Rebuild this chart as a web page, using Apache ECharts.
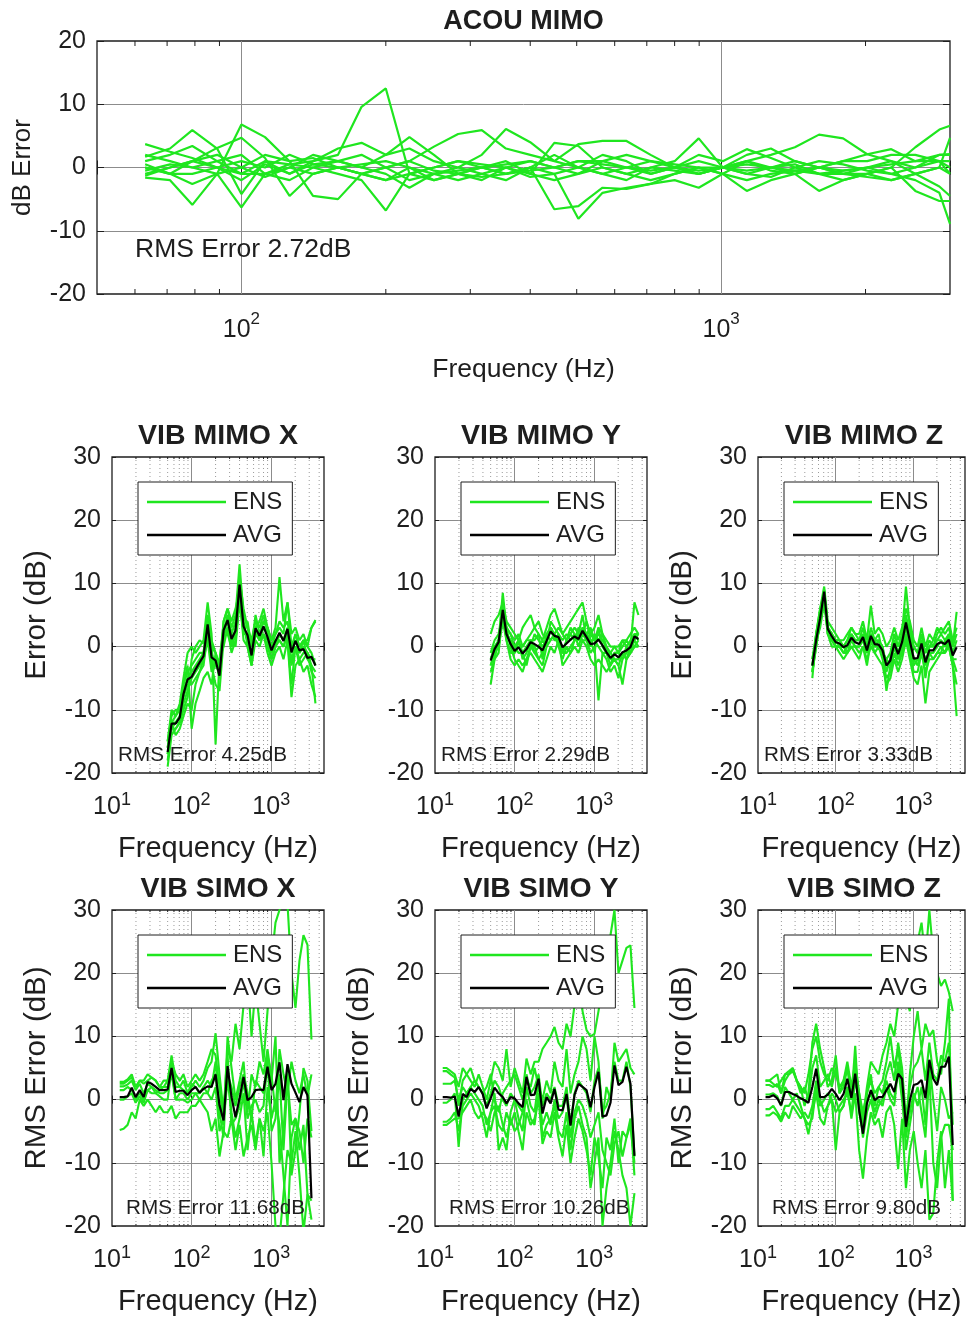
<!DOCTYPE html>
<html>
<head>
<meta charset="utf-8">
<script src="https://cdn.jsdelivr.net/npm/echarts@6/dist/echarts.min.js"></script>
<style>
  html, body { margin: 0; padding: 0; background: #fff; }
  #chart { width: 968px; height: 1320px; }
</style>
</head>
<body>
<div id="chart"></div>
<script>
// ---------- Acoustic MIMO: error per 1/6-octave band, one line per realisation ----------
const acouFreq = [63,71,79,89,100,112,126,141,159,178,200,224,252,283,317,356,400,449,504,566,635,713,800,898,1008,1131,1270,1425,1600,1796,2016,2263,2540,2851,3000];
const acouEns = [
  [0.5,-1,1,0,-1,1,0.5,1,2,9.6,12.5,-1,-2,-1,0,0.5,1,0,1,0.5,0,-0.5,0,1,0,-0.5,0,1,0,-0.5,0,0.5,1,2,2],
  [3.7,2.5,1.5,0,-2,0.5,-1,1,3,3.9,2,4.8,2,-1,-2,0,1,0,-1,1,2,1,0,-1,0,1,0,0.5,-1,-0.5,0,1,-1,0,-1],
  [1.7,3,5.9,3,-4.2,1,-1,0.5,1,0,-1,-3.2,-1,0,2,6.1,4,1,3.7,4.2,4.2,2,0,-1,0,1,2,3.2,5.2,4.6,2.1,1,0,1,-1],
  [0,-1,-2.6,-1,6.8,4.8,1,-4.5,-5,-1,0,1,3.3,5.3,5.9,3,2,1,0,-1,0,-1,0,2,1,2.9,1.5,0,-1,-2,-1,0,3.2,6,6.6],
  [-1.3,0,1,3.1,4.7,1.5,-4.5,-1,0,0.5,1,0,-2,-1,0,-1,0,-1,-8.1,-4,-3.2,-2.6,-2,-3.2,-1,-3.7,-2,-1,-3.7,-2,-1,0,-3.7,-5.3,-5.3],
  [-1.6,-2,-5.9,-1,-6.3,-1,0.5,0,-1,-2,-6.8,-1,0,1,0,-1,0,-6.6,-6.1,-3.2,-3.4,-2.6,-1,0,0,-1,0,-1,0,-1,0,-1,-2,-4,-8.9],
  [1,2,3.4,1,-1,-1,0,-1,0,-1,-2,0,-1,-2,-1,0,-1,3.9,3.4,0,-1,0,-0.5,-1,0,0.5,0,-0.5,-1,-1,-1.5,-2,-1,0,4.7],
  [-0.5,0.5,0,-1,0,2,1,1.5,0,-1,0,1,-0.5,-1,-1.5,-1,-0.5,0,1,1,0,1,0.5,0,-1,1,-0.5,-1,0,1,2.1,2.9,1,1,1],
  [0,-1,-1,0,1,0,2,0.5,0,-1,-2,-1,0,1,0.5,0,-1.5,-1,0,2,1,-1,0,-0.5,0,-1,-1.5,0,1,0.5,-0.5,-1,0,2,2.1],
  [2,1,0,1,2,-1,-2,0,1,2,0,-2,-1,-0.5,0,1,-1,-2,-1,0,-1,-2,-1,0,-1,-2,-1,-0.5,0,-1,-1,-2,-1,-3,-4.5],
  [-1,0,1,2,0,-1.5,0,2,1,0,2,3,1,0,-1,-2,0,2,0,-1,-2,0,1,4.6,0,2,3,1,0,1,1,2,2,1,0]
];
const acouMinorTicks = [60,70,80,90,200,300,400,500,600,700,800,900,2000];

// ---------- Vibration MIMO (50 Hz - 3.6 kHz) ----------
const mimoFreq = [50,56,63,71,79,89,100,112,126,141,159,178,200,224,252,283,317,356,400,449,504,566,635,713,800,898,1008,1131,1270,1425,1600,1796,2016,2263,2540,2851,3200,3592];

const mimoXEns = [
  [-19,-14,-13,-12,-10,-8,-2,0,1,0.5,5,1,-1,-3,4,6,3,5,13,5,3,0,5,2,4,3,1,3,11,4,7,2,3,1,2,0,3,4.2],
  [-15,-10,-11,-9,-5,-1,0,-1,0,1,7,2,-15.5,-2,0,3,-1,1,8,1,0,-3,1,0,2,-1,-3,-1,0,-2,1,-8,-3,-2,-4,-3,-6,-8],
  [-17,-12,-14,-13,-11,-9,-10,-6,-4,-3,2,-3,-6,-7,1,5,2,4,11,6,3,1,4,3,5,2,0,2,4,3,4,0,2,0,1,1,3,4],
  [-18,-13,-12,-12,-8,-6,-6,-5,-4,-2,1,-4,-3,-2,3,2,0,2,10,2,2,-2,2,1,2,1,-2,0,1,0,2,-3,0,-3,-2,-1,-4,-5],
  [-15,-11,-10,-10,-6,-3,-13,-9,-7,-5,-4,-6,-1,-5,4,6,4,6,9,4,0,-3,3,4,6,3,1,2,3,2,7,0,1,-1,1,-2,-3,-9],
  [-16,-12,-11,-10,-7,-5,-4,-3,-2,-1,4,0,-1,-3,2,3,1,0,7,2,4,0,3,1,3,2,0,1,1,0,2,-2,0,-1,0,-1,-2,-2],
  [-17,-13,-13,-12,-9,-7,-5,-4,-3,-2,3,-2,-2,-5,3,4,0,3,10,3,1,-2,2,2,4,3,-1,0,2,1,3,-1,2,0,1,0,-1,-3],
  [-16,-12,-12,-11,-6,-4,-3,-2,-1,-1,4,-1,-3,-4,2,5,2,1,8,3,1,-1,3,1,2,0,-2,0,2,1,1,-6,0,-2,-1,-1,-3,-4]
];
const mimoXAvg = [-16.7,-12.2,-12.2,-11.2,-7.5,-5.2,-4.8,-3.6,-2.5,-1.5,3.5,-1.7,-2.2,-4.6,2.6,4.2,1.2,2.5,9.8,3.2,1.8,-1.4,2.9,1.7,3.2,1.5,-0.6,0.9,2.2,0.9,2.8,-0.9,0.9,-0.6,-0.4,-1.8,-1.6,-3.0];

const mimoYEns = [
  [-6,-2,1,8.5,3,0,-2,-3,-4,-2,0,-1,-2,-3,0,4,3,2,-1,1,2,3,2,5,1,-1,0,-8.5,-1,-2,-4,-3,-5,-2,-1,0,7,5],
  [2,4,5,7,4,3,2,1,3,4,5,3,2,1,3,5,6,4,2,3,4,5,6,7,4,2,3,5,2,1,0,0,-1,1,1,2,3,2],
  [-3,-1,0,6,1,-2,-3,-2,-3,-2,-1,-2,-3,-4,-2,0,-1,1,-3,-2,-1,0,-1,1,0,-2,-3,-2,-3,-4,-3,-2,-3,-6,-2,-1,0,1],
  [-1,1,2,5,3,2,1,2,0,1,2,3,4,2,1,3,2,3,2,1,3,2,1,3,2,3,1,2,1,0,-1,0,0,1,0,1,2,1],
  [-2,0,1,4,1,-1,-1,1,-2,-1,1,0,-2,-1,2,1,2,0,-2,0,-1,1,3,2,4,1,-1,3,0,-1,-2,-2,-3,-1,-2,-1,1,0],
  [-3,-1,1,7,2,1,0,-1,-1,-3,0,2,1,0,1,3,1,2,1,2,1,2,0,2,1,0,2,1,2,-1,-3,-1,-1,0,1,0,2,2],
  [-1,0,0,4,2,1,-1,0,0,1,1,-1,0,1,0,1,2,1,-1,-1,0,1,1,3,2,1,1,0,-1,-1,-1,-2,-2,-1,-2,0,1,2],
  [-4,-2,-1,6,3,2,0,1,-1,0,1,1,2,-2,2,3,1,1,-1,1,2,1,2,1,1,2,1,3,2,0,-2,-1,-1,-2,0,-1,0,0]
];
const mimoYAvg = [-2.2,-0.4,0.7,5.8,2.0,0.4,-0.7,-0.1,-1.1,-0.4,0.7,0.4,0.0,-0.6,0.9,2.4,1.7,1.5,-0.1,0.5,1.1,1.6,1.2,2.5,1.5,0.4,0.5,1.1,0.2,-0.9,-1.8,-1.2,-1.7,-0.9,-0.6,-0.1,1.6,1.2];

const mimoZEns = [
  [-5,2,6,9.5,4,3,2,1,0,1,3,2,1,3,0,2,1,2,-1,-2,-1,2,0,2,9.5,3,0,-1,2,-1,1,0,2,3,2,3,0,5.5],
  [-4,0,4,8,2,1,0,-1,-2,-1,0,-1,-2,0,-2,0,-1,-2,-3,-6,-5,-2,-4,-2,1,-2,-5,-6,-3,-9,-4,-3,-2,-1,-1,0,-3,-11],
  [-2,2,5,9,3,2,1,1,1,2,3,2,2,4,1,6.5,2,3,2,0,1,3,1,3,6,4,1,0,3,0,2,1,3,2,3,4,1,3],
  [-3,1,4,7,2,1,0,0,-1,-1,1,0,-1,0,-3,1,-1,0,-2,-5,-4,-1,-3,-1,2,-1,-4,-4,-1,-4,-2,-2,-1,0,-1,1,-2,-4],
  [-4,1,5,8,3,2,1,1,0,1,2,1,1,2,0,3,1,1,0,-3,-2,1,-1,1,5,2,-2,-2,1,-3,0,0,1,1,0,2,-1,1],
  [-3,2,6,8.5,3,2,0,0,-1,0,1,0,0,1,-1,1,0,0,-1,-2,-3,0,-2,0,3,0,-2,-3,0,-2,-1,-1,0,1,0,1,-2,-2],
  [-2,1,3,7,3,2,1,0,0,0,2,1,1,1,0,2,1,0,0,-4,-2,2,0,2,4,2,0,-1,1,-1,0,1,1,2,1,2,0,2],
  [-4,0,4,8,2,0,0,0,0,-1,0,0,0,1,-1,1,0,1,-1,-7,-3,0,-2,-1,2,1,-3,-2,0,-5,-1,-2,-1,-1,1,0,-3,-6]
];
const mimoZAvg = [-3.0,1.0,4.5,8.7,2.8,1.6,0.7,0.5,-0.1,0.2,1.4,0.7,0.4,1.5,-0.6,1.7,0.4,0.3,-0.6,-3.0,-2.2,0.5,-1.2,0.7,3.8,0.9,-1.9,-1.8,0.5,-2.5,-0.6,-0.6,0.4,0.7,0.4,1.1,-1.4,-0.1];

// ---------- Vibration SIMO (12.5 Hz - 3.2 kHz) ----------
const simoFreq = [12.5,14,15.7,17.7,19.8,22.3,25,28,31.5,35.4,39.7,44.5,50,56,63,71,79,89,100,112,126,141,159,178,200,224,252,283,317,356,400,449,504,566,635,713,800,898,1008,1131,1270,1425,1600,1796,2016,2263,2540,2851,3200];

const simoXEns = [
  [2.5,2.5,3,3.5,2,3,2.5,3,3.5,3,2,2,3,7,3,2,3,1,2,3,2,3,5,6,10.5,4,-2,8,6,12,8,15,20,10,18,12,6,14,22,28,30,33,31,20,14.5,22,26,24.5,9.5],
  [-4.8,-4.6,-4,-2,-3,0,-1,0,-1,-2,-1,-2,-2,-1,-3,-2,-2,-2,-1,-1,0,-1,-2,-5,-3,-9,-5,-6,-3,-8,-4,-9,-6,-4,-8,-3,-5,-2,-10,-20,-22,-15,-8,-10,-5,-12,-21,-15,-16],
  [2.8,2.8,3.2,4,2,3,3,4,3.5,3,2,3,3,6,4,3,4,2,3,4,3,4,6,8,7,2,-4,10,5,0,3,6,-2,4,2,6,4,8,3,10,-10,-5,5,-12,-8,-2,5,3,-5],
  [2.1,2.1,2.4,3,1.5,2.5,1,2.5,2,1.5,1,1,1.5,4,0,0,0,-0.5,0,1,1,2,3,2,6,-2,-6,7,-4,-3,-1,3,-3,-1,0,-2,-1,6,-5,-3,4,-8,3,-4,-3,-8,-4,-15,-19],
  [1.5,1.5,2,1.5,0,1,0,1.5,2,1,0.5,0,0,5,0,1,1,0,1,1,0,1,1,0,2,-5,-3,3,-2,-6,-3,1,-8,-2,-7,-3,-9,2,-3,0,-4,-12,-20,-6,-3,-5,-10,-3,-6],
  [0,0,0.5,1,-0.5,0.5,-0.5,1.5,1,1,1.5,2,2,6,2,2,1.5,1,2.5,2,1,2,1,3,4,-3,-1,4,2,-1,2,4,1,-3,3,2,1,7,4,-2,8,4,1,6,3,1,4,0.5,4]
];
const simoXAvg = [0.4,0.4,0.5,1.9,0.4,1.5,0.4,2.8,2.5,2.0,1.5,1.5,1.6,5.0,1.2,1.4,1.4,0.7,1.5,2.0,1.1,1.7,2.1,2.0,4.0,-0.9,-3.3,5.3,0.4,-2.8,0.2,3.6,-0.1,0.4,1.5,1.6,1.5,5.2,1.5,2.5,5.9,-0.1,5.6,2.5,1.1,-0.4,2.0,0.7,-15.6];

const simoYEns = [
  [5,5,4.5,4,2,5,4,3,2,4,2,0,3,6,5,3,8,2,5,3,1,6.5,4,6,6,8,9,10,11.5,9,8,12,10,15,20,14,11,10,10.4,14,18,22,26,30,20,22,24,24.4,14.5],
  [4.5,4.5,4,3.5,-1,3,4,5,3,2,1,2,4,0,-2,1,2,3,4,2,0,3,2,5,2,0,3,1,6,3,2,8,1,4,6,10,8,3,10,6,-3,2,0,9,6,7,8,5,4],
  [-0.5,-0.5,0,1,-7.5,0,1,2,1,0,-1,-4,-2,1,-8,-6,-8,-2,0,-3,-5,2,-1,-2,3,-6,-4,-3,-1,-5,-6,-2,-8,-3,-1,-4,-6,-14,-10,-6,-20,-14,-10,-5,-8,-12,-14,-20,-14.8],
  [-3.5,-3.5,-3,-2,-5,-1,0,1,0,-1,-3,-6,-2,-1,-4,-5,-2,-4,-2,-5,-8,-2,-4,-3,0,-7,-5,-6,-2,-6,-9,-4,-10,-6,-3,-5,-8,-12,-6,-9,-14,-6,-8,-3,-10,-5,-6,-4,-10],
  [-4,-4,-3.5,-3,-3,-2,-1,0,-2,-3,-2,-3,-5,-2,-1,-4,-6,-3,-5,-4,-2,0,-3,-4,1,-4,-2,-4,0,-3,-2,1,-6,-2,0,-1,-3,-6,-4,-2,-8,-10,-12,-7,-5,-9,-6,-3,-12],
  [2.5,2.5,2.5,3,0,2,1,2,3,2,1,-1,1,3,2,0,-1,1,0,-1,-2,4,1,2,4,-1,1,0,2,-1,-1,2,-4,1,3,2,1,-2,3,5,-2,-1,1,6,3,3,6,2,-9]
];
const simoYAvg = [0.4,0.4,0.3,0.5,-2.7,0.9,0.4,1.7,1.2,2.0,0.9,-1.4,0.2,1.9,1.0,0.4,-0.6,0.4,0.2,-0.6,-1.2,3.6,0.7,0.8,3.3,-2.2,0.4,-0.6,1.7,-1.6,-1.7,0.9,-4.1,0.8,2.5,2.0,1.5,-1.2,2.0,4.4,-2.7,-2.5,-0.5,5.4,2.3,2.8,5.2,2.5,-8.9];

const simoZEns = [
  [3,3,2.5,2,3,4,4,5,3,2,1,4,8,10,6,4,3,5,4,2,3,6,2,5,1,-3,2,6,5,4,7,9,12,10,15,20,16,14,22,25,28,22,30,23,20,18,19,17,14],
  [2.3,2.3,2,2.5,1,4,4.5,5,3,2,-1,1,9,12,8,5,2,3,7,1,3,5,0,8.5,-2,-5,1,4,-1,2,3,6,10,5,8,3,-5,4,10,14,8,12,10,11,6,4,9,16,-16],
  [0.8,0.8,1,0.5,-1,2,1,0,1,-1,-3,-5.5,-2,1,-3,-4,-1,0,-8,-2,-1,2,-3,1,-8,-12.5,-6,-2,-4,-3,-6,-2,-1,-4,-11,-3,-14,-8,-5,-10,-14,-8,-19,-18,-10,-5,-14,-8,-16],
  [-1.5,-1.5,-1,-2,-3,-1,-1,0,-1,-2,-3,-4,-3,2,-1,0,1,0,-2,-1,0,1,-2,3,0,-4,0,1,-2,0,-1,2,0,-1,5,0,-6,-2,1,-1,2,-4,6,0,-5,2,0,-3,-2],
  [-2.5,-2.5,-2,-2.5,-3.5,-2,-3,-1,-2,-3,-2,-3,-1,3,0,-2,-1,1,0,-2,-1,2,0,4,-1,-6,-2,0,-3,-1,0,3,1,0,6,2,-8,-4,0,2,-2,-6,4,-10,-14,-6,-4,-4,-8],
  [3,3,3.5,4,1,3,4,4.5,3,1,2,0,5,7,2,3,4,2,5,1,2,5,2,6,1,-2,1,3,1,2,1,4,6,3,9,5,-3,2,5,6,8,3,9,4,3,7,6,9,-4]
];
const simoZAvg = [0.4,0.4,0.7,0.2,-0.9,1.2,1.2,0.9,0.6,0.2,-0.1,-0.5,2.0,4.9,0.4,0.4,0.8,1.7,0.9,-0.1,0.9,3.3,0.3,4.1,-1.7,-5.4,-0.6,1.5,-0.1,0.4,0.4,1.5,2.5,1.2,4.1,3.3,-4.3,-0.1,2.3,2.5,3.1,0.2,6.3,3.3,2.3,5.2,5.2,6.8,-7.2];

const vibMinorTicks = [20,30,40,50,60,70,80,90,200,300,400,500,600,700,800,900,2000,3000,4000];

// ---------- styling ----------
const FONT = '"Liberation Sans", Arial, Helvetica, sans-serif';
const INK = '#1e1e1e';
const GREEN = '#1fe61f';
const MAJOR = '#8c8c8c';
const MINOR = '#9a9a9a';

const chart = echarts.init(document.getElementById('chart'), null, { renderer: 'canvas' });

const grid = [], xAxis = [], yAxis = [], series = [], legend = [], graphic = [];

// decade tick labels written as 10 with a raised exponent
function decadeLabel(v) {
  const e = Math.log10(v);
  const r = Math.round(e);
  if (Math.abs(e - r) > 1e-6) return '';
  return '{b|10}{s|' + r + '}';
}

function textEl(x, y, text, size, weight, align) {
  return {
    type: 'text', x: x, y: y, silent: true, z: 100,
    style: { text: text, fill: INK, fontFamily: FONT, fontSize: size, fontWeight: weight || 'normal',
             align: align || 'left', verticalAlign: 'middle' }
  };
}

// short inward ticks (and optional dotted grid) at minor decade positions
function minorRenderer(yMin, yMax, tickLen, dotted) {
  return function (params, api) {
    const f = api.value(0);
    const b = api.coord([f, yMin]);
    const t = api.coord([f, yMax]);
    const kids = [];
    if (dotted) {
      kids.push({ type: 'line', shape: { x1: b[0], y1: b[1], x2: t[0], y2: t[1] },
                  style: { stroke: MINOR, lineWidth: 1, lineDash: [1, 3] } });
    }
    kids.push({ type: 'line', shape: { x1: b[0], y1: b[1], x2: b[0], y2: b[1] - tickLen },
                style: { stroke: INK, lineWidth: 1 } });
    kids.push({ type: 'line', shape: { x1: t[0], y1: t[1], x2: t[0], y2: t[1] + tickLen },
                style: { stroke: INK, lineWidth: 1 } });
    return { type: 'group', children: kids };
  };
}

function addPanel(p) {
  const gi = grid.length;
  grid.push({ left: p.left, top: p.top, width: p.width, height: p.height, show: true,
              backgroundColor: '#fff', borderColor: INK, borderWidth: 1.3, containLabel: false });
  const xi = xAxis.length;
  const rich = {
    b: { fontFamily: FONT, fontSize: p.tickSize, color: INK, verticalAlign: 'bottom' },
    s: { fontFamily: FONT, fontSize: p.supSize, color: INK, verticalAlign: 'top', padding: [0, 0, p.supLift, 0] }
  };
  xAxis.push({
    type: 'log', logBase: 10, gridIndex: gi, min: p.xMin, max: p.xMax, position: 'bottom',
    axisLine: { show: false },
    axisTick: { show: true, inside: true, length: p.tick, lineStyle: { color: INK } },
    axisLabel: { formatter: decadeLabel, margin: p.xLabelMargin, rich: rich, color: INK },
    splitLine: { show: true, showMinLine: false, showMaxLine: false, lineStyle: { color: MAJOR, width: 1 } },
    minorTick: { show: false }, minorSplitLine: { show: false },
    name: 'Frequency (Hz)', nameLocation: 'middle', nameGap: p.xNameGap,
    nameTextStyle: { fontFamily: FONT, fontSize: p.nameSize, color: INK }
  });
  xAxis.push({
    type: 'log', logBase: 10, gridIndex: gi, min: p.xMin, max: p.xMax, position: 'top',
    axisLine: { show: false }, axisLabel: { show: false }, splitLine: { show: false },
    axisTick: { show: true, inside: true, length: p.tick, lineStyle: { color: INK } }
  });
  const yi = yAxis.length;
  yAxis.push({
    type: 'value', gridIndex: gi, min: p.yMin, max: p.yMax, interval: 10, position: 'left',
    axisLine: { show: false },
    axisTick: { show: true, inside: true, length: p.tick, lineStyle: { color: INK } },
    axisLabel: { fontFamily: FONT, fontSize: p.tickSize, color: INK, margin: p.yLabelMargin },
    splitLine: { show: true, showMinLine: false, showMaxLine: false, lineStyle: { color: MAJOR, width: 1 } },
    name: p.yName || '', nameLocation: 'middle', nameGap: p.yNameGap,
    nameTextStyle: { fontFamily: FONT, fontSize: p.yNameSize, color: INK }
  });
  yAxis.push({
    type: 'value', gridIndex: gi, min: p.yMin, max: p.yMax, interval: 10, position: 'right',
    axisLine: { show: false }, axisLabel: { show: false }, splitLine: { show: false },
    axisTick: { show: true, inside: true, length: p.tick, lineStyle: { color: INK } }
  });

  series.push({
    type: 'custom', xAxisIndex: xi, yAxisIndex: yi, silent: true, z: 1, clip: true,
    renderItem: minorRenderer(p.yMin, p.yMax, p.minorTick, p.dotted),
    data: p.minor.map(f => [f, 0]), encode: { x: 0, y: 1 }
  });

  p.ens.forEach(vals => {
    series.push({
      type: 'line', name: 'ENS', xAxisIndex: xi, yAxisIndex: yi, z: 2,
      data: p.freq.map((f, j) => [f, vals[j]]), symbol: 'none', silent: true, clip: true,
      lineStyle: { color: GREEN, width: p.lineWidth }, itemStyle: { color: GREEN }
    });
  });
  if (p.avg) {
    series.push({
      type: 'line', name: 'AVG', xAxisIndex: xi, yAxisIndex: yi, z: 3,
      data: p.freq.map((f, j) => [f, p.avg[j]]), symbol: 'none', silent: true, clip: true,
      lineStyle: { color: '#000', width: 2.2 }, itemStyle: { color: '#000' }
    });
    legend.push({
      show: true, orient: 'vertical', left: p.left + 26, top: p.top + 25,
      data: ['ENS', 'AVG'], selectedMode: false, z: 20,
      icon: 'rect', itemWidth: 79, itemHeight: 2.4, itemGap: 9,
      padding: [8, 10, 8, 9],
      backgroundColor: '#fff', borderColor: INK, borderWidth: 1, borderRadius: 0,
      textStyle: { fontFamily: FONT, fontSize: 24, color: INK, lineHeight: 24, padding: [0, 0, 0, 2] }
    });
  }

  graphic.push(textEl(p.left + p.width / 2, p.top - p.titleGap, p.title, p.titleSize, 'bold', 'center'));
  graphic.push(textEl(p.left + p.rmsDx, p.top + p.rmsDy, p.rms, p.rmsSize, 'normal', 'left'));
}

// top acoustic panel
addPanel({
  left: 97, top: 41, width: 853, height: 253,
  xMin: 50, xMax: 3000, yMin: -20, yMax: 20,
  freq: acouFreq, ens: acouEns, avg: null, minor: acouMinorTicks, dotted: false,
  title: 'ACOU MIMO', titleSize: 27, titleGap: 19,
  rms: 'RMS Error 2.72dB', rmsSize: 26.5, rmsDx: 38, rmsDy: 209,
  yName: 'dB Error', yNameSize: 26, nameSize: 26.5, yNameGap: 61, xNameGap: 62,
  tickSize: 25, supSize: 17, supLift: 15, xLabelMargin: 17, yLabelMargin: 11,
  tick: 7, minorTick: 5, lineWidth: 2.2
});

// vibration panels
const colLeft = [112, 435, 758];
const rowTop = [457, 910];
const vibPanels = [
  { title: 'VIB MIMO X', col: 0, row: 0, freq: mimoFreq, ens: mimoXEns, avg: mimoXAvg, rms: 'RMS Error 4.25dB', yName: 'Error (dB)' },
  { title: 'VIB MIMO Y', col: 1, row: 0, freq: mimoFreq, ens: mimoYEns, avg: mimoYAvg, rms: 'RMS Error 2.29dB', yName: '' },
  { title: 'VIB MIMO Z', col: 2, row: 0, freq: mimoFreq, ens: mimoZEns, avg: mimoZAvg, rms: 'RMS Error 3.33dB', yName: 'Error (dB)' },
  { title: 'VIB SIMO X', col: 0, row: 1, freq: simoFreq, ens: simoXEns, avg: simoXAvg, rms: 'RMS Error 11.68dB', yName: 'RMS Error (dB)' },
  { title: 'VIB SIMO Y', col: 1, row: 1, freq: simoFreq, ens: simoYEns, avg: simoYAvg, rms: 'RMS Error 10.26dB', yName: 'RMS Error (dB)' },
  { title: 'VIB SIMO Z', col: 2, row: 1, freq: simoFreq, ens: simoZEns, avg: simoZAvg, rms: 'RMS Error 9.80dB', yName: 'RMS Error (dB)' }
];
vibPanels.forEach(v => {
  addPanel(Object.assign({}, v, {
    left: colLeft[v.col], top: rowTop[v.row], width: 212, height: 316,
    xMin: 10, xMax: 4600, yMin: -20, yMax: 30, minor: vibMinorTicks, dotted: true,
    titleSize: 28.5, titleGap: 21,
    rmsSize: 20.7, rmsDx: v.row === 0 ? 6 : 14, rmsDy: 298,
    yNameSize: 29.5, nameSize: 29, yNameGap: 60, xNameGap: 61,
    tickSize: 25, supSize: 18, supLift: 11, xLabelMargin: 18, yLabelMargin: 11,
    tick: 4, minorTick: 2, lineWidth: 2.1
  }));
});

chart.setOption({
  animation: false,
  backgroundColor: '#fff',
  textStyle: { fontFamily: FONT },
  grid: grid, xAxis: xAxis, yAxis: yAxis, legend: legend, series: series, graphic: graphic
});
</script>
</body>
</html>
